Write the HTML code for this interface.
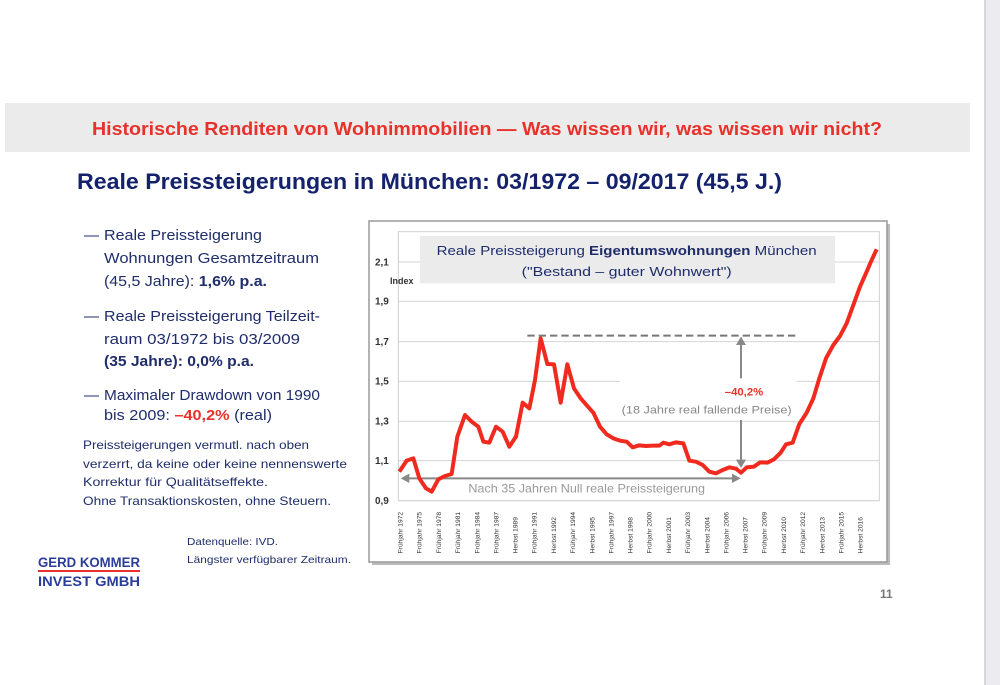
<!DOCTYPE html>
<html><head><meta charset="utf-8"><style>
html,body{margin:0;padding:0;background:#fff}
svg{display:block}
text{font-family:"Liberation Sans",sans-serif}
</style></head><body>
<svg width="1000" height="685" viewBox="0 0 1000 685" xmlns="http://www.w3.org/2000/svg">
<rect x="0" y="0" width="1000" height="685" fill="#fff"/>
<rect x="985" y="0" width="15" height="685" fill="#ecebf0"/>
<rect x="984" y="0" width="2" height="685" fill="#d6d6da"/>
<rect x="5" y="103" width="965" height="49" fill="#ebebeb"/>
<text x="487" y="135" text-anchor="middle" font-size="18.5" font-weight="bold" fill="#e8312a" textLength="790" lengthAdjust="spacingAndGlyphs">Historische Renditen von Wohnimmobilien — Was wissen wir, was wissen wir nicht?</text>
<text x="77" y="189" font-size="22" font-weight="bold" fill="#14216b" textLength="705" lengthAdjust="spacingAndGlyphs">Reale Preissteigerungen in München: 03/1972 – 09/2017 (45,5 J.)</text>

<g font-size="15" fill="#1f2d6b">
<text x="84" y="240">—</text>
<text x="104" y="240" textLength="158" lengthAdjust="spacingAndGlyphs">Reale Preissteigerung</text>
<text x="104" y="263" textLength="215" lengthAdjust="spacingAndGlyphs">Wohnungen Gesamtzeitraum</text>
<text x="104" y="286" textLength="163" lengthAdjust="spacingAndGlyphs">(45,5 Jahre): <tspan font-weight="bold">1,6% p.a.</tspan></text>
<text x="84" y="321">—</text>
<text x="104" y="321" textLength="216" lengthAdjust="spacingAndGlyphs">Reale Preissteigerung Teilzeit-</text>
<text x="104" y="344" textLength="196" lengthAdjust="spacingAndGlyphs">raum 03/1972 bis 03/2009</text>
<text x="104" y="366" font-weight="bold" textLength="150" lengthAdjust="spacingAndGlyphs">(35 Jahre): 0,0% p.a.</text>
<text x="84" y="400">—</text>
<text x="104" y="400" textLength="216" lengthAdjust="spacingAndGlyphs">Maximaler Drawdown von 1990</text>
<text x="104" y="420" textLength="168" lengthAdjust="spacingAndGlyphs">bis 2009: <tspan font-weight="bold" fill="#e8312a">–40,2%</tspan> (real)</text>
</g>
<g font-size="12" fill="#1f2d6b">
<text x="83" y="449" textLength="226" lengthAdjust="spacingAndGlyphs">Preissteigerungen vermutl. nach oben</text>
<text x="83" y="468" textLength="264" lengthAdjust="spacingAndGlyphs">verzerrt, da keine oder keine nennenswerte</text>
<text x="83" y="486" textLength="185" lengthAdjust="spacingAndGlyphs">Korrektur für Qualitätseffekte.</text>
<text x="83" y="505" textLength="248" lengthAdjust="spacingAndGlyphs">Ohne Transaktionskosten, ohne Steuern.</text>
</g>
<g font-size="10.5" fill="#1f2d6b">
<text x="187" y="545" textLength="91" lengthAdjust="spacingAndGlyphs">Datenquelle: IVD.</text>
<text x="187" y="563" textLength="164" lengthAdjust="spacingAndGlyphs">Längster verfügbarer Zeitraum.</text>
</g>
<text x="38" y="567" font-size="13.5" font-weight="bold" fill="#2a3d9a" textLength="102" lengthAdjust="spacingAndGlyphs">GERD KOMMER</text>
<rect x="38" y="570" width="102" height="2" fill="#e8312a"/>
<text x="38" y="586" font-size="13.5" font-weight="bold" fill="#2a3d9a" textLength="102" lengthAdjust="spacingAndGlyphs">INVEST GMBH</text>
<text x="880" y="598" font-size="12" font-weight="bold" fill="#777">11</text>

<!-- chart frame -->
<rect x="372" y="224" width="518" height="341" fill="#bbb"/>
<rect x="369" y="221" width="518" height="341" fill="#fff" stroke="#9a9a9a" stroke-width="1.5"/>
<g transform="translate(370,220) scale(0.3333333)">
<rect x="85" y="35" width="1443" height="807" fill="none" stroke="#cfcfcf" stroke-width="3"/>
<g stroke="#d4d4d4" stroke-width="3">
<line x1="85" y1="126" x2="1528" y2="126"/><line x1="85" y1="244" x2="1528" y2="244"/>
<line x1="85" y1="365" x2="1528" y2="365"/><line x1="85" y1="484" x2="1528" y2="484"/>
<line x1="85" y1="604" x2="1528" y2="604"/><line x1="85" y1="722" x2="1528" y2="722"/>
<line x1="85" y1="842" x2="1528" y2="842"/>
</g>
<rect x="150" y="48" width="1245" height="142" fill="#ebebeb"/>
<rect x="750" y="470" width="530" height="130" fill="#fff"/>
<g font-size="30" font-weight="bold" fill="#333">
<text x="15" y="136">2,1</text><text x="15" y="254">1,9</text><text x="15" y="375">1,7</text>
<text x="15" y="494">1,5</text><text x="15" y="614">1,3</text><text x="15" y="732">1,1</text><text x="15" y="852">0,9</text>
<text x="60" y="192" font-size="27">Index</text>
</g>
<text x="770" y="105" text-anchor="middle" font-size="40" fill="#1f2d6b" textLength="1140" lengthAdjust="spacingAndGlyphs">Reale Preissteigerung <tspan font-weight="bold">Eigentumswohnungen</tspan> München</text>
<text x="770" y="168" text-anchor="middle" font-size="40" fill="#1f2d6b" textLength="630" lengthAdjust="spacingAndGlyphs">("Bestand – guter Wohnwert")</text>
<line x1="472" y1="347" x2="1280" y2="347" stroke="#777" stroke-width="6" stroke-dasharray="22,12"/>
<line x1="1113" y1="370" x2="1113" y2="475" stroke="#888" stroke-width="6"/>
<line x1="1113" y1="600" x2="1113" y2="722" stroke="#888" stroke-width="6"/>
<polygon points="1113,350 1098,375 1128,375" fill="#888"/>
<polygon points="1113,744 1098,719 1128,719" fill="#888"/>
<text x="1122" y="527" text-anchor="middle" font-size="34" font-weight="bold" fill="#e8312a">–40,2%</text>
<text x="1010" y="580" text-anchor="middle" font-size="33" fill="#888" textLength="510" lengthAdjust="spacingAndGlyphs">(18 Jahre real fallende Preise)</text>
<line x1="115" y1="775" x2="1090" y2="775" stroke="#888" stroke-width="6"/>
<polygon points="92,775 118,761 118,789" fill="#888"/>
<polygon points="1112,775 1086,761 1086,789" fill="#888"/>
<text x="650" y="818" text-anchor="middle" font-size="35" fill="#999" textLength="710" lengthAdjust="spacingAndGlyphs">Nach 35 Jahren Null reale Preissteigerung</text>
<polyline fill="none" stroke="#f02a1e" stroke-width="12" stroke-linejoin="round" points="88,755 110,722 130,715 148,775 168,805 185,815 205,778 225,768 245,762 262,650 285,585 305,605 325,620 340,665 358,668 378,620 398,635 418,680 438,650 458,548 478,565 495,480 512,355 532,432 552,433 572,548 592,433 612,505 632,535 652,558 670,578 690,620 710,643 730,655 750,662 770,665 788,682 808,676 828,678 848,677 868,677 880,668 898,673 918,667 940,670 958,722 978,725 998,735 1018,755 1038,760 1058,750 1078,742 1098,746 1113,758 1130,742 1152,740 1170,727 1192,728 1212,718 1232,698 1248,673 1268,668 1288,612 1310,578 1330,535 1348,475 1368,415 1390,375 1410,348 1430,310 1450,255 1470,200 1490,155 1505,120 1520,88"/>
<g font-size="20" fill="#333">
<text transform="translate(98,1000) rotate(-90)">Frühjahr 1972</text>
<text transform="translate(155,1000) rotate(-90)">Frühjahr 1975</text>
<text transform="translate(213,1000) rotate(-90)">Frühjahr 1978</text>
<text transform="translate(270,1000) rotate(-90)">Frühjahr 1981</text>
<text transform="translate(328,1000) rotate(-90)">Frühjahr 1984</text>
<text transform="translate(385,1000) rotate(-90)">Frühjahr 1987</text>
<text transform="translate(443,1000) rotate(-90)">Herbst  1989</text>
<text transform="translate(500,1000) rotate(-90)">Frühjahr 1991</text>
<text transform="translate(558,1000) rotate(-90)">Herbst 1992</text>
<text transform="translate(615,1000) rotate(-90)">Frühjahr 1994</text>
<text transform="translate(673,1000) rotate(-90)">Herbst  1995</text>
<text transform="translate(730,1000) rotate(-90)">Frühjahr 1997</text>
<text transform="translate(788,1000) rotate(-90)">Herbst  1998</text>
<text transform="translate(845,1000) rotate(-90)">Frühjahr 2000</text>
<text transform="translate(903,1000) rotate(-90)">Herbst 2001</text>
<text transform="translate(960,1000) rotate(-90)">Frühjahr 2003</text>
<text transform="translate(1018,1000) rotate(-90)">Herbst 2004</text>
<text transform="translate(1075,1000) rotate(-90)">Frühjahr 2006</text>
<text transform="translate(1133,1000) rotate(-90)">Herbst 2007</text>
<text transform="translate(1190,1000) rotate(-90)">Frühjahr 2009</text>
<text transform="translate(1248,1000) rotate(-90)">Herbst 2010</text>
<text transform="translate(1305,1000) rotate(-90)">Frühjahr 2012</text>
<text transform="translate(1363,1000) rotate(-90)">Herbst 2013</text>
<text transform="translate(1420,1000) rotate(-90)">Frühjahr 2015</text>
<text transform="translate(1478,1000) rotate(-90)">Herbst 2016</text>
</g>
</g>
</svg>
</body></html>
